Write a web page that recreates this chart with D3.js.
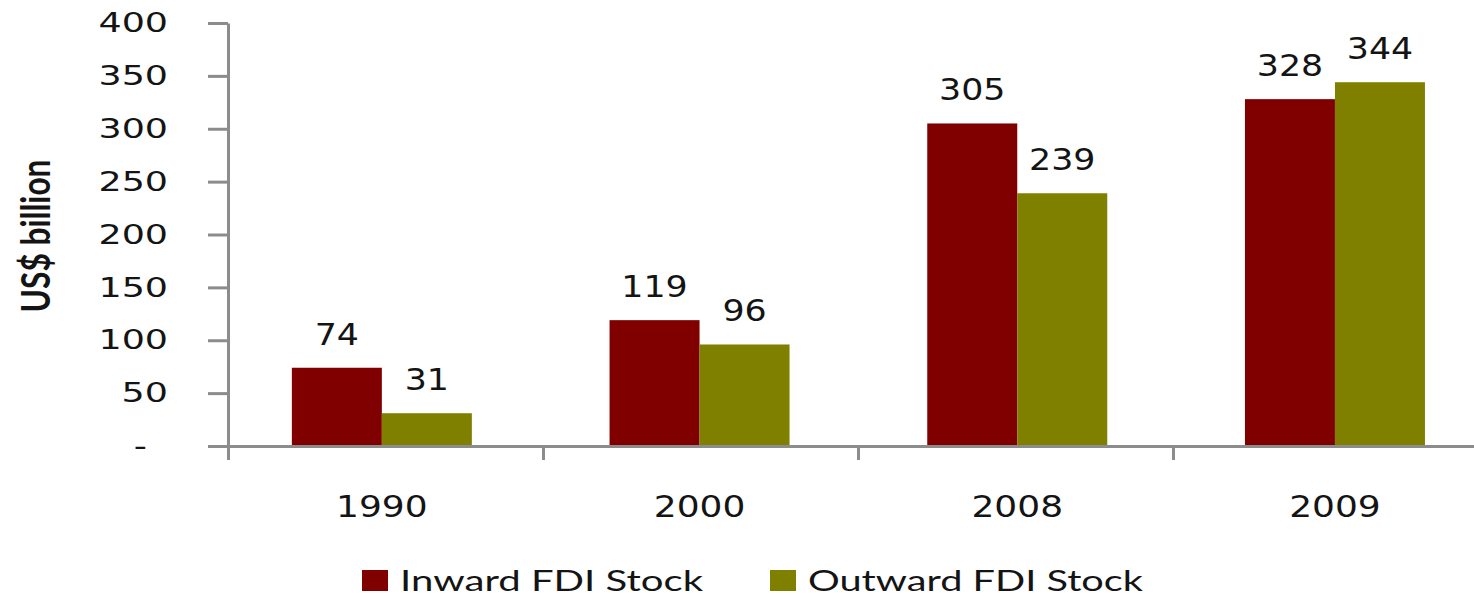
<!DOCTYPE html>
<html lang="en">
<head>
<meta charset="UTF-8">
<title>FDI Stock</title>
<script src="https://cdn.jsdelivr.net/npm/d3@7"></script>
<style>
    body{ margin:0; background:#fff; }
    .eje path, .eje line{ stroke:#8c8c8c; stroke-width:3; }
    .eje text{ font-family:'DejaVu Sans', sans-serif; font-size:27px; fill:#141414; }
    .valores{ font-family:'DejaVu Sans', sans-serif; font-size:30px; fill:#141414; }
    .anos{ font-family:'DejaVu Sans', sans-serif; font-size:30px; fill:#141414; }
    .leyenda{ font-family:Lato, sans-serif; font-size:29px; fill:#141414; }
    .tituloY{ font-family:Lato, sans-serif; font-weight:700; font-size:30px; fill:#141414; }
</style>
</head>
<body>
<div id="grafico"></div>
<script>
var years = ["1990", "2000", "2008", "2009"];
var inward = [74, 119, 305, 328];
var outward = [31, 96, 239, 344];
var seriesNames = ["Inward FDI Stock", "Outward FDI Stock"];
var seriesColors = ["#800000", "#808000"];
var yTicks = [0, 50, 100, 150, 200, 250, 300, 350, 400];

var w = 1474, h = 597;
var left = 228, base = 446, top0 = 23;
var pairWidth = 180;

var svg = d3.select("#grafico").append("svg")
    .attr("width", w)
    .attr("height", h);

// bandas de las barras (un poco mas anchas que las marcas del eje, como en el original)
var x0 = d3.scaleBand().domain(years).range([223, 223 + 4 * 317.7]);
var x1 = d3.scaleBand().domain(seriesNames).range([0, pairWidth]);
var y = d3.scaleLinear().domain([0, 400]).range([base, top0]);
var color = d3.scaleOrdinal().domain(seriesNames).range(seriesColors);

var rows = years.map(function(yr, i){
    return {year: yr, vals: [
        {name: seriesNames[0], v: inward[i]},
        {name: seriesNames[1], v: outward[i]}
    ]};
});
var offset = (x0.bandwidth() - pairWidth) / 2;

// barras
var grupos = svg.selectAll(".grupo")
    .data(rows)
    .enter()
    .append("g")
    .attr("transform", function(d){ return "translate(" + (x0(d.year) + offset) + ",0)"; });

grupos.selectAll("rect")
    .data(function(d){ return d.vals; })
    .enter()
    .append("rect")
    .attr("x", function(d){ return x1(d.name); })
    .attr("y", function(d){ return y(d.v); })
    .attr("width", x1.bandwidth())
    .attr("height", function(d){ return base - y(d.v); })
    .attr("fill", function(d){ return color(d.name); });

grupos.selectAll("text")
    .data(function(d){ return d.vals; })
    .enter()
    .append("text")
    .classed("valores", true)
    .attr("text-anchor", "middle")
    .attr("transform", function(d){
        return "translate(" + (x1(d.name) + x1.bandwidth() / 2) + "," + (y(d.v) - 23) + ") scale(1.16,1)";
    })
    .text(function(d){ return d.v; });

// eje x (marcas en los limites de categoria)
var xLim = d3.scaleLinear().domain([0, 4]).range([left, left + 4 * 315]);
svg.append("g")
    .classed("eje", true)
    .attr("transform", "translate(0," + base + ")")
    .call(d3.axisBottom(xLim).tickValues([0, 1, 2, 3, 4]).tickSize(14).tickSizeOuter(0).tickFormat(""));

svg.selectAll(".anos")
    .data(years)
    .enter()
    .append("text")
    .classed("anos", true)
    .attr("text-anchor", "middle")
    .attr("transform", function(d){
        return "translate(" + (x0(d) + x0.bandwidth() / 2) + ",517) scale(1.2,1)";
    })
    .text(function(d){ return d; });

// eje y
var ejeY = svg.append("g")
    .classed("eje", true)
    .attr("transform", "translate(" + left + ",0)")
    .call(d3.axisLeft(y).tickValues(yTicks).tickSize(20).tickSizeOuter(0).tickPadding(40)
        .tickFormat(function(d){ return d === 0 ? "-" : d; }));

ejeY.selectAll("text").each(function(d){
    var t = d3.select(this);
    var x = +t.attr("x") - (d === 0 ? 21 : 0);
    t.attr("x", null)
        .attr("transform", "translate(" + x + ",0) scale(1.35,1)");
});

svg.append("text")
    .classed("tituloY", true)
    .attr("text-anchor", "middle")
    .attr("textLength", 153)
    .attr("lengthAdjust", "spacingAndGlyphs")
    .attr("transform", "translate(50,236) rotate(-90) scale(1,1.35)")
    .text("US$ billion");

// leyenda
var legX = [362, 770];
var legLen = [303, 335];
var leyenda = svg.selectAll(".itemLeyenda")
    .data(seriesNames)
    .enter()
    .append("g")
    .attr("transform", function(d, i){ return "translate(" + legX[i] + ",570)"; });

leyenda.append("rect")
    .attr("width", 26)
    .attr("height", 21)
    .attr("fill", function(d){ return color(d); });

leyenda.append("text")
    .classed("leyenda", true)
    .attr("x", 38)
    .attr("y", 21)
    .attr("textLength", function(d, i){ return legLen[i]; })
    .attr("lengthAdjust", "spacingAndGlyphs")
    .text(function(d){ return d; });
</script>
</body>
</html>
